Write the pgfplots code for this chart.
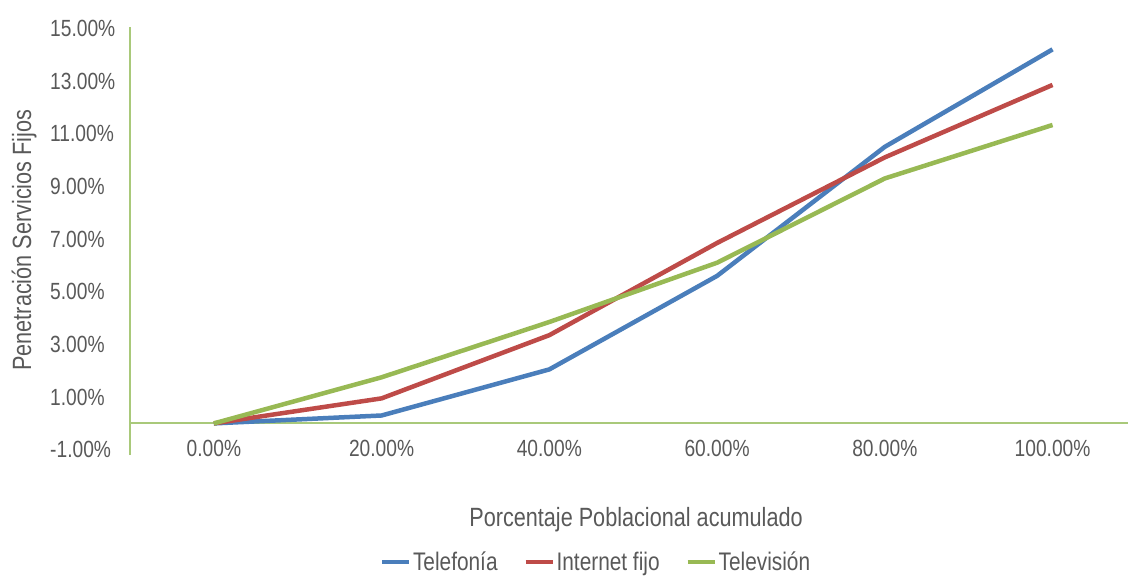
\documentclass[border=0pt]{standalone}
\usepackage{pgfplots}
\pgfplotsset{compat=1.18}
\usepackage{fontspec}
\setmainfont{Liberation Sans}[FakeStretch=0.82]
\definecolor{tgrey}{HTML}{595959}
\definecolor{cblue}{HTML}{4A7EBB}
\definecolor{cred}{HTML}{BE4B48}
\definecolor{cgreen}{HTML}{98B954}
\definecolor{agreen}{HTML}{A9C97A}
\begin{document}
\begin{tikzpicture}[font=\fontsize{23}{27}\selectfont]
\useasboundingbox (0,0) rectangle (1128bp,578bp);
\begin{axis}[
  at={(130bp,123bp)}, anchor=south west,
  scale only axis, width=998bp, height=428bp,
  xmin=-0.5, xmax=5.45, ymin=-1.2, ymax=15.05,
  axis x line=middle, axis y line=left,
  axis line style={-, draw=agreen, line width=2bp},
  xtick={0,1,2,3,4,5},
  xticklabels={0.00\%,20.00\%,40.00\%,60.00\%,80.00\%,100.00\%},
  ytick={-1,1,3,5,7,9,11,13,15},
  yticklabels={-1.00\%,1.00\%,3.00\%,5.00\%,7.00\%,9.00\%,11.00\%,13.00\%,15.00\%},
  major tick length=0pt,
  tick label style={text=tgrey, inner sep=0pt, font=\fontsize{23.5}{27}\selectfont},
  xticklabel style={anchor=north, yshift=-17bp},
  yticklabel style={anchor=west, xshift=-80bp},
  xlabel={Porcentaje Poblacional acumulado},
  ylabel={Penetración Servicios Fijos},
  label style={font=\fontsize{26.5}{30}\selectfont},
  xlabel style={at={(axis description cs:0.507,-0.152)}, anchor=center, text=tgrey, inner sep=0pt},
  ylabel style={at={(axis description cs:-0.106,0.502)}, anchor=center, text=tgrey, inner sep=0pt},
  legend columns=3,
  legend style={at={(0.467,-0.250)}, anchor=center, draw=none, fill=none,
    text=tgrey, font=\fontsize{25.5}{29}\selectfont, nodes={inner sep=2bp},
    /tikz/every even column/.append style={column sep=24bp}},
  legend image code/.code={\draw[#1, line width=4bp] (0bp,0bp) -- (27bp,0bp);},
  clip=false,
]
\addplot[cblue, line width=4.5bp] coordinates {(0,0) (1,0.3) (2,2.05) (3,5.6) (4,10.5) (5,14.2)};
\addlegendentry{Telefonía}
\addplot[cred, line width=4.5bp] coordinates {(0,0) (1,0.95) (2,3.35) (3,6.85) (4,10.1) (5,12.85)};
\addlegendentry{Internet fijo}
\addplot[cgreen, line width=4.5bp] coordinates {(0,0) (1,1.75) (2,3.85) (3,6.1) (4,9.3) (5,11.33)};
\addlegendentry{Televisión}
\end{axis}
\end{tikzpicture}
\end{document}
